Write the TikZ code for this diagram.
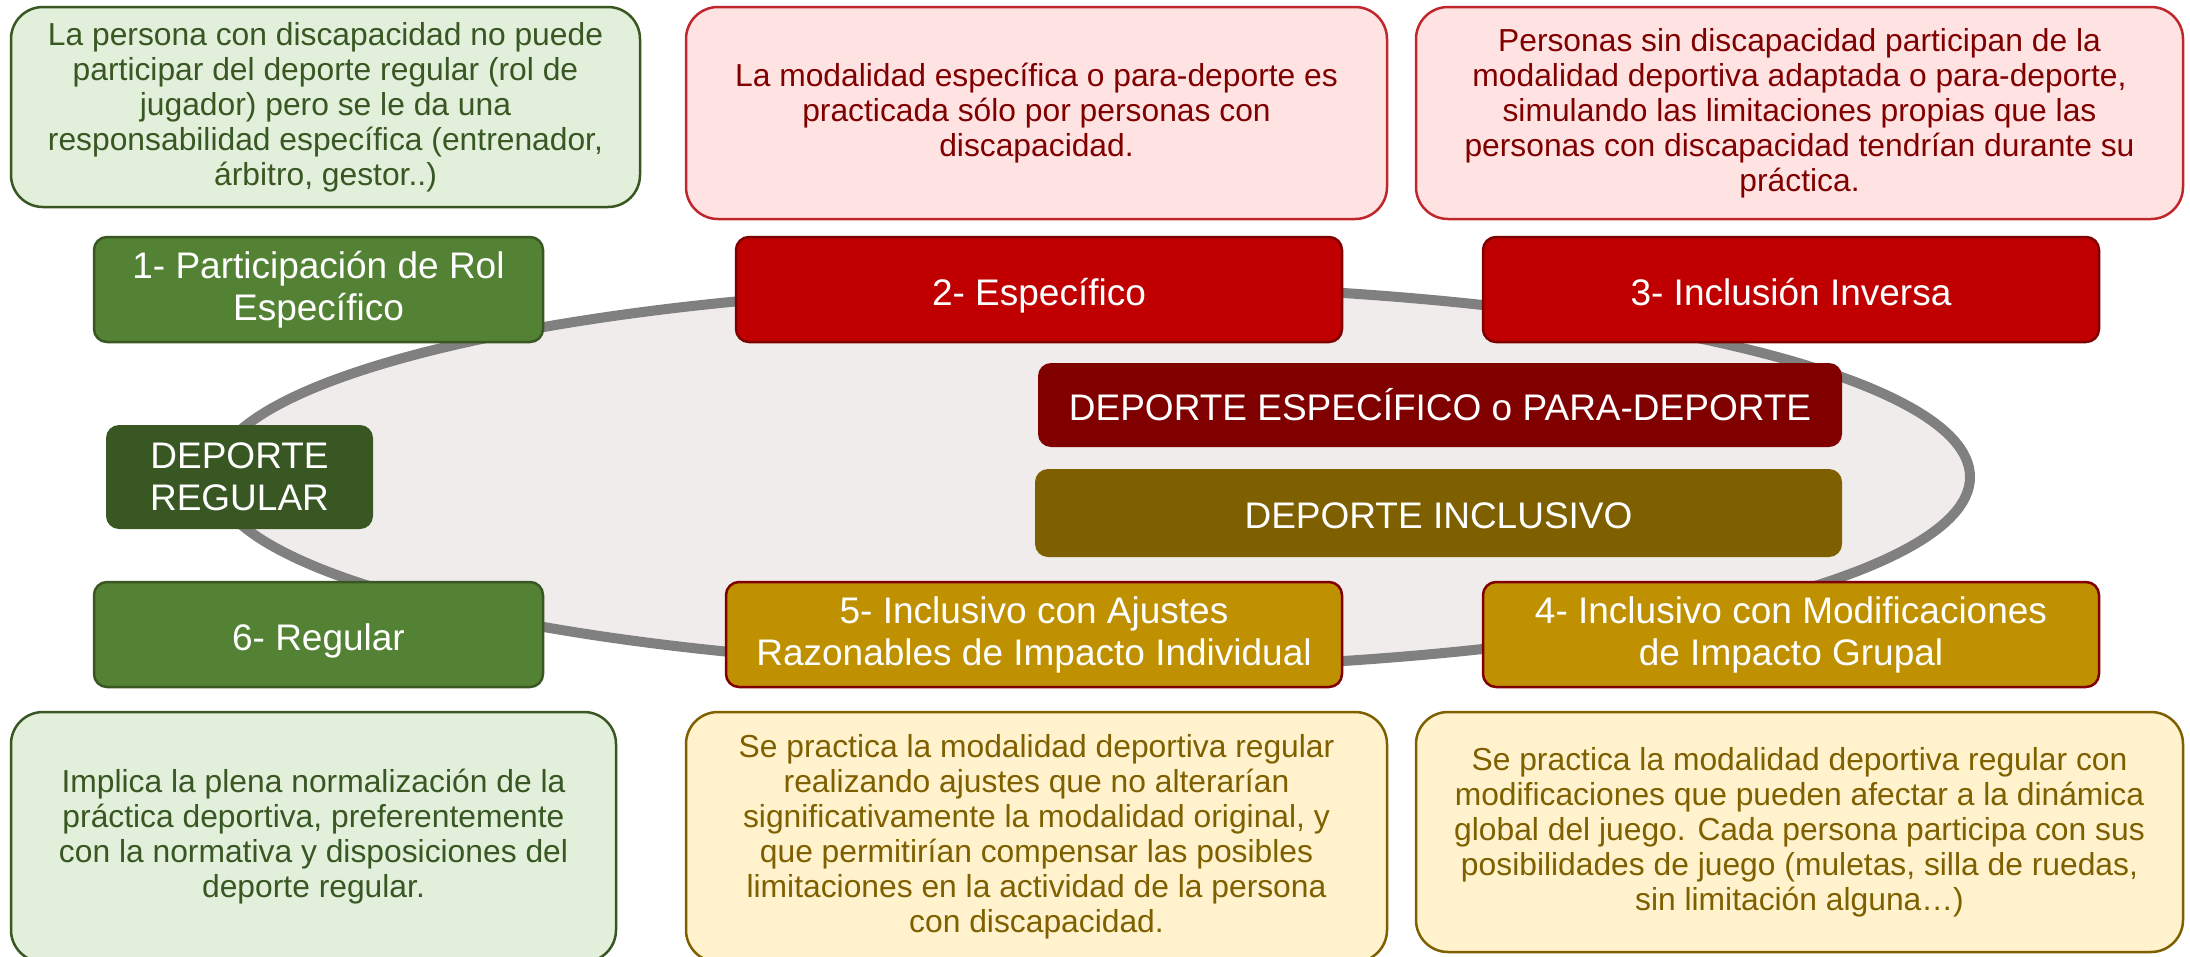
\documentclass[tikz,border=0pt]{standalone}
\usepackage{fontspec}
\setmainfont{Liberation Sans}
\definecolor{grnDark}{HTML}{385723}
\definecolor{grnMid}{HTML}{548235}
\definecolor{grnLight}{HTML}{E2EFDA}
\definecolor{redMid}{HTML}{C00000}
\definecolor{redDark}{HTML}{800000}
\definecolor{redLine}{HTML}{C0272D}
\definecolor{redLight}{HTML}{FFE3E3}
\definecolor{goldMid}{HTML}{BF9000}
\definecolor{goldDark}{HTML}{7F6000}
\definecolor{goldLight}{HTML}{FFF2CC}
\definecolor{ringFill}{HTML}{F0ECEB}
\definecolor{ringLine}{HTML}{808080}
\tikzset{
  descbox/.style={draw, rounded corners=32pt, line width=2.5pt, align=center,
    inner sep=0pt, font=\fontsize{31.8}{35}\selectfont},
  titlebox/.style={draw, rounded corners=13pt, line width=2.5pt, align=center,
    inner sep=0pt, text=white, font=\fontsize{37}{42}\selectfont},
  mainbox/.style={rounded corners=13pt, align=center, inner sep=0pt,
    text=white, font=\fontsize{37}{42}\selectfont},
  oneline/.style={text height=31pt, text depth=0pt},
}
\begin{document}
\begin{tikzpicture}[x=1pt,y=-1pt]
\useasboundingbox (0,0) rectangle (2190,956);

% Ring
\draw[line width=10pt,draw=ringLine,fill=ringFill] (1092,477) ellipse [x radius=878,y radius=192];

% Top descriptions
\node[descbox,draw=grnDark,fill=grnLight,text=grnDark,minimum width=629pt,minimum height=200pt] (descA) at (325.5,107)
  {La persona con discapacidad no puede\\participar del deporte regular (rol de\\jugador) pero se le da una\\responsabilidad específica (entrenador,\\árbitro, gestor..)};
\node[descbox,draw=redLine,fill=redLight,text=redDark,minimum width=701pt,minimum height=212pt] (descB) at (1036.5,113)
  {La modalidad específica o para-deporte es\\practicada sólo por personas con\\discapacidad.};
\node[descbox,draw=redLine,fill=redLight,text=redDark,minimum width=767pt,minimum height=212pt] (descC) at (1799.5,113)
  {Personas sin discapacidad participan de la\\modalidad deportiva adaptada o para-deporte,\\simulando las limitaciones propias que las\\personas con discapacidad tendrían durante su\\práctica.};

% Top titles
\node[titlebox,draw=grnDark,fill=grnMid,minimum width=449pt,minimum height=105pt] (rol) at (318.5,289.5)
  {1- Participación de Rol\\Específico};
\node[titlebox,oneline,draw=redDark,fill=redMid,minimum width=606pt,minimum height=105pt] (espec) at (1039,289.5)
  {2- Específico};
\node[titlebox,oneline,draw=redDark,fill=redMid,minimum width=616pt,minimum height=105pt] (inversa) at (1791,289.5)
  {3- Inclusión Inversa};

% Inner labels
\node[mainbox,fill=grnDark,minimum width=267pt,minimum height=104pt] (regular) at (239.5,477)
  {DEPORTE\\REGULAR};
\node[mainbox,oneline,fill=redDark,minimum width=804pt,minimum height=84pt] (para) at (1440,405)
  {DEPORTE ESPECÍFICO o PARA-DEPORTE};
\node[mainbox,oneline,fill=goldDark,minimum width=807pt,minimum height=88pt] (inclusivo) at (1438.5,513)
  {DEPORTE INCLUSIVO};

% Bottom titles
\node[titlebox,oneline,draw=grnDark,fill=grnMid,minimum width=449pt,minimum height=105pt] (reg) at (318.5,634.5)
  {6- Regular};
\node[titlebox,draw=redDark,fill=goldMid,minimum width=616pt,minimum height=105pt] (ajustes) at (1034,634.5)
  {5- Inclusivo con Ajustes\\Razonables de Impacto Individual};
\node[titlebox,draw=redDark,fill=goldMid,minimum width=616pt,minimum height=105pt] (modif) at (1791,634.5)
  {4- Inclusivo con Modificaciones\\de Impacto Grupal};

% Bottom descriptions
\node[descbox,draw=grnDark,fill=grnLight,text=grnDark,minimum width=605pt,minimum height=250pt] (descD) at (313.5,837)
  {Implica la plena normalización de la\\práctica deportiva, preferentemente\\con la normativa y disposiciones del\\deporte regular.};
\node[descbox,draw=goldDark,fill=goldLight,text=goldDark,minimum width=701pt,minimum height=250pt] (descE) at (1036.5,837)
  {Se practica la modalidad deportiva regular\\realizando ajustes que no alterarían\\significativamente la modalidad original, y\\que permitirían compensar las posibles\\limitaciones en la actividad de la persona\\con discapacidad.};
\node[descbox,draw=goldDark,fill=goldLight,text=goldDark,minimum width=767pt,minimum height=240pt] (descF) at (1799.5,832)
  {Se practica la modalidad deportiva regular con\\modificaciones que pueden afectar a la dinámica\\global del juego. Cada persona participa con sus\\posibilidades de juego (muletas, silla de ruedas,\\sin limitación alguna…)};
\end{tikzpicture}
\end{document}
